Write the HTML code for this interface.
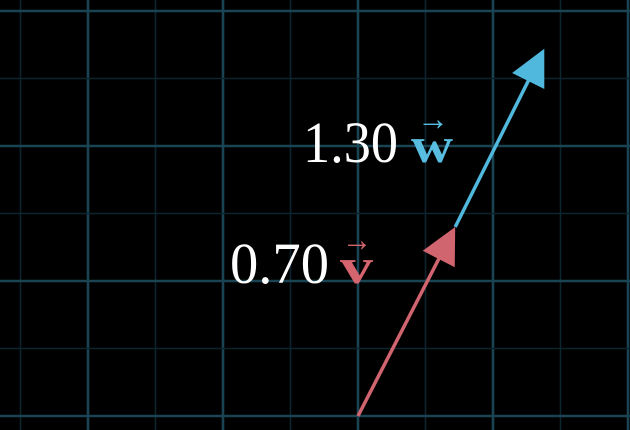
<!DOCTYPE html>
<html><head><meta charset="utf-8"><style>
html,body{margin:0;padding:0;background:#000;width:630px;height:430px;overflow:hidden}
svg{display:block}
text{font-family:"Liberation Serif",serif}
</style></head><body>
<svg id="c" width="630" height="430" viewBox="0 0 630 430">
<g id="grid"></g>
<g id="vecs"></g>
<g>
<text x="303" y="162" font-size="58" fill="#fff" textLength="95" lengthAdjust="spacingAndGlyphs">1.30</text>
<text x="411" y="162" font-size="50" font-weight="bold" fill="#58bde0" textLength="42" lengthAdjust="spacingAndGlyphs">w</text>
<text x="417" y="130" font-size="34" fill="#58bde0" textLength="32" lengthAdjust="spacingAndGlyphs">→</text>
</g>
<g>
<text x="230" y="283" font-size="58" fill="#fff" textLength="99" lengthAdjust="spacingAndGlyphs">0.70</text>
<text x="340" y="283" font-size="50" font-weight="bold" fill="#d4646e" textLength="33" lengthAdjust="spacingAndGlyphs">v</text>
<text x="342" y="251" font-size="34" fill="#d4646e" textLength="30" lengthAdjust="spacingAndGlyphs">→</text>
</g>
</svg>
<script>
const origin=[358,416];
const unit=135;
const vStart=[0,0];
const vEnd=[0.72,1.40];
const wStart=[0.72,1.40];
const wEnd=[1.38,2.72];
const ns="http://www.w3.org/2000/svg";
function sx(u){return origin[0]+u*unit;}
function sy(u){return origin[1]-u*unit;}
const g=document.getElementById('grid');
for(let k=-2.5;k<=2;k+=0.5){
  const x=sx(k);
  const l=document.createElementNS(ns,'line');
  
  
  l.setAttribute('x1',x);l.setAttribute('x2',x);l.setAttribute('y1',0);l.setAttribute('y2',430);
  const major=Number.isInteger(k);
  l.setAttribute('stroke',major?'#1a4453':'#0c242d');l.setAttribute('stroke-width',major?2.6:1.6);
  g.appendChild(l);
}
for(let k=0;k<=3;k+=0.5){
  const y=sy(k);
  const l=document.createElementNS(ns,'line');
  
  
  l.setAttribute('y1',y);l.setAttribute('y2',y);l.setAttribute('x1',0);l.setAttribute('x2',630);
  const major=Number.isInteger(k);
  l.setAttribute('stroke',major?'#1a4453':'#0c242d');l.setAttribute('stroke-width',major?2.6:1.6);
  g.appendChild(l);
}
const vg=document.getElementById('vecs');
function arrow(a,b,color,name){
  const x1=sx(a[0]),y1=sy(a[1]),x2=sx(b[0]),y2=sy(b[1]);
  const dx=x2-x1,dy=y2-y1,len=Math.hypot(dx,dy),ux=dx/len,uy=dy/len;
  const h=36,w=18;
  const bx=x2-ux*h,by=y2-uy*h;
  const l=document.createElementNS(ns,'line');
  
  
  l.setAttribute('x1',x1);l.setAttribute('y1',y1);l.setAttribute('x2',bx+ux*4);l.setAttribute('y2',by+uy*4);
  l.setAttribute('stroke',color);l.setAttribute('stroke-width',3.5);
  vg.appendChild(l);
  const p=document.createElementNS(ns,'polygon');
  
  
  p.setAttribute('points',`${x2},${y2} ${bx-uy*w},${by+ux*w} ${bx+uy*w},${by-ux*w}`);
  p.setAttribute('fill',color);
  vg.appendChild(p);
}
arrow(wStart,wEnd,'#4fb8dc','vector-w');
arrow(vStart,vEnd,'#d1656f','vector-v');
</script>
</body></html>
